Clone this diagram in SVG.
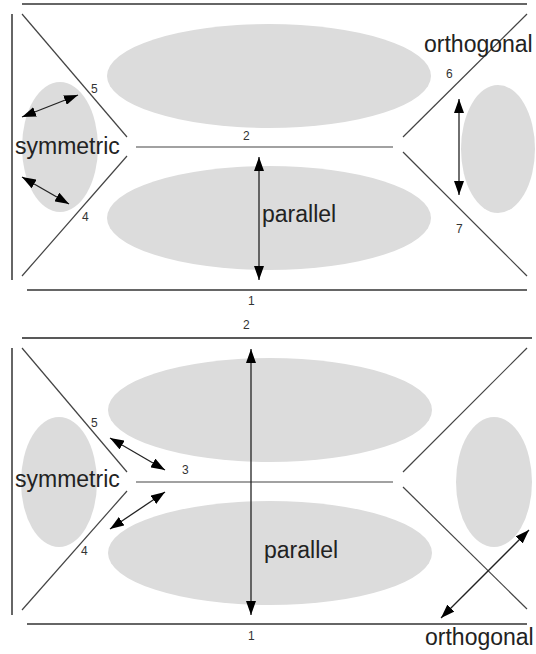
<svg xmlns="http://www.w3.org/2000/svg" width="536" height="654" viewBox="0 0 536 654">
  <style>
    .blob { fill: #dcdcdc; }
    .frame { stroke: #666; stroke-width: 2; fill: none; }
    .frame-dark { stroke: #222; stroke-width: 1.6; fill: none; }
    .edge { stroke: #444; stroke-width: 1.2; fill: none; }
    .arrow { stroke: #222; stroke-width: 1.3; fill: none; marker-start: url(#head); marker-end: url(#head); }
    .label { font-family: "Liberation Sans", Arial, sans-serif; font-size: 23px; fill: #222; }
    .num { font-family: "Liberation Sans", Arial, sans-serif; font-size: 12px; fill: #333; }
  </style>
  <defs>
    <marker id="head" markerUnits="userSpaceOnUse" markerWidth="14" markerHeight="10" refX="14" refY="5" orient="auto-start-reverse">
      <path d="M0,0 L14,5 L0,10 z" fill="#000"/>
    </marker>
  </defs>

  <rect width="536" height="654" fill="#fff"/>

  <!-- Upper panel -->
  <g id="upper-panel">
    <g id="upper-regions">
      <ellipse class="blob" cx="269" cy="76" rx="162" ry="52"/>
      <ellipse class="blob" cx="269" cy="218" rx="162" ry="52"/>
      <ellipse class="blob" cx="60" cy="147" rx="38" ry="65"/>
      <ellipse class="blob" cx="498" cy="149" rx="37" ry="64"/>
    </g>
    <g id="upper-walls">
      <line class="frame" x1="22" y1="4" x2="527" y2="4"/>
      <line class="frame" x1="12" y1="14" x2="12" y2="280"/>
      <line class="frame" x1="27" y1="290" x2="527" y2="290"/>
      <line class="edge" x1="22" y1="14" x2="127" y2="137"/>
      <line class="edge" x1="127" y1="156" x2="22" y2="276"/>
      <line class="edge" x1="136" y1="147" x2="393" y2="147"/>
      <line class="edge" x1="403" y1="137" x2="527" y2="14"/>
      <line class="edge" x1="403" y1="152" x2="527" y2="276"/>
    </g>
    <g id="upper-connectors">
      <line class="arrow" x1="259" y1="157" x2="259" y2="280"/>
      <line class="arrow" x1="459" y1="99" x2="459" y2="195"/>
      <line class="arrow" x1="22" y1="117" x2="78" y2="95"/>
      <line class="arrow" x1="22" y1="177" x2="69" y2="204"/>
    </g>
    <g id="upper-labels">
      <text class="label" x="15" y="154">symmetric</text>
      <text class="label" x="262" y="222">parallel</text>
      <text class="label" x="424" y="52">orthogonal</text>
      <text class="num" x="91" y="93">5</text>
      <text class="num" x="243" y="140">2</text>
      <text class="num" x="82" y="221">4</text>
      <text class="num" x="446" y="78">6</text>
      <text class="num" x="456" y="233">7</text>
      <text class="num" x="248" y="305">1</text>
    </g>
  </g>

  <!-- Lower panel -->
  <g id="lower-panel">
    <g id="lower-regions">
      <ellipse class="blob" cx="270" cy="410" rx="162" ry="52"/>
      <ellipse class="blob" cx="270" cy="553" rx="162" ry="52"/>
      <ellipse class="blob" cx="59" cy="482" rx="38" ry="65"/>
      <ellipse class="blob" cx="494" cy="482" rx="38" ry="65"/>
    </g>
    <g id="lower-walls">
      <line class="frame-dark" x1="22" y1="338" x2="532" y2="338"/>
      <line class="frame" x1="12" y1="348" x2="12" y2="615"/>
      <line class="frame" x1="27" y1="624" x2="527" y2="624"/>
      <line class="edge" x1="22" y1="348" x2="127" y2="472"/>
      <line class="edge" x1="127" y1="491" x2="22" y2="610"/>
      <line class="edge" x1="136" y1="482" x2="393" y2="482"/>
      <line class="edge" x1="403" y1="472" x2="527" y2="348"/>
      <line class="edge" x1="403" y1="487" x2="527" y2="609"/>
    </g>
    <g id="lower-connectors">
      <line class="arrow" x1="251" y1="349" x2="251" y2="615"/>
      <line class="arrow" x1="110" y1="438" x2="165" y2="470"/>
      <line class="arrow" x1="110" y1="529" x2="165" y2="492"/>
      <line class="arrow" x1="441" y1="618" x2="529" y2="530"/>
    </g>
    <g id="lower-labels">
      <text class="label" x="15" y="487">symmetric</text>
      <text class="label" x="264" y="558">parallel</text>
      <text class="label" x="425" y="645">orthogonal</text>
      <text class="num" x="243" y="329">2</text>
      <text class="num" x="91" y="427">5</text>
      <text class="num" x="182" y="474">3</text>
      <text class="num" x="81" y="555">4</text>
      <text class="num" x="248" y="640">1</text>
    </g>
  </g>
</svg>
